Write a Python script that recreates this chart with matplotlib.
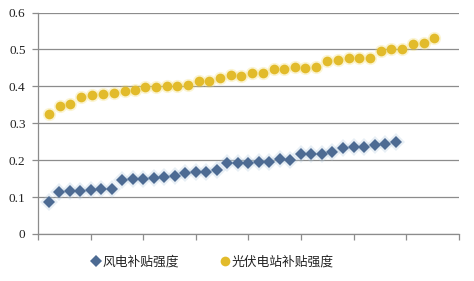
import matplotlib
matplotlib.use("Agg")
import matplotlib.pyplot as plt
import numpy as np

plt.rcParams['font.family'] = ['Noto Sans CJK SC', 'DejaVu Sans']

# Data
wind_x = list(range(1, 35))
wind = [0.086, 0.115, 0.117, 0.117, 0.120, 0.122, 0.122, 0.147, 0.150, 0.150,
        0.152, 0.155, 0.156, 0.164, 0.169, 0.169, 0.172, 0.191, 0.191, 0.191,
        0.196, 0.196, 0.202, 0.201, 0.216, 0.218, 0.218, 0.221, 0.232, 0.235,
        0.235, 0.241, 0.245, 0.250]

pv_x = [1.05, 2.12, 3.07, 4.12, 5.16, 6.21, 7.22, 8.24, 9.25, 10.2,
        11.22, 12.23, 13.24, 14.29, 15.33, 16.28, 17.3, 18.32, 19.3, 20.37,
        21.42, 22.4, 23.41, 24.46, 25.41, 26.43, 27.5, 28.55, 29.56, 30.54,
        31.56, 32.58, 33.56, 34.63, 35.65, 36.66, 37.67]
pv = [0.324, 0.348, 0.353, 0.371, 0.376, 0.379, 0.382, 0.387, 0.391, 0.397,
      0.397, 0.400, 0.400, 0.403, 0.414, 0.415, 0.423, 0.430, 0.429, 0.436,
      0.436, 0.446, 0.446, 0.452, 0.451, 0.452, 0.469, 0.471, 0.477, 0.477,
      0.478, 0.495, 0.500, 0.500, 0.514, 0.517, 0.531]

labels = ['风电补贴强度', '光伏电站补贴强度']
yticks = [0, 0.1, 0.2, 0.3, 0.4, 0.5, 0.6]
ytick_labels = ['0', '0.1', '0.2', '0.3', '0.4', '0.5', '0.6']

blue = '#4d6b93'
yellow = '#e2bb2b'

fig = plt.figure(figsize=(4.74, 2.81), dpi=100)
ax = fig.add_axes([0.0802, 0.1673, 0.8875, 0.7882])

# glow
ax.plot(wind_x, wind, linestyle='none', marker='D', markersize=9,
        color='#b3cbe0', alpha=0.3, markeredgewidth=0, zorder=2)
ax.plot(pv_x, pv, linestyle='none', marker='o', markersize=9.5,
        color='#f3dc6a', alpha=0.3, markeredgewidth=0, zorder=2)

ax.plot(wind_x, wind, linestyle='none', marker='D', markersize=5.8,
        color=blue, markeredgewidth=0, zorder=3, label=labels[0])
ax.plot(pv_x, pv, linestyle='none', marker='o', markersize=7,
        color=yellow, markeredgewidth=0, zorder=3, label=labels[1])

ax.set_xlim(0, 40)
ax.set_ylim(0, 0.6)
ax.set_xticks(np.arange(0, 41, 5))
ax.set_xticklabels([])
ax.set_yticks(yticks)
ax.set_yticklabels(ytick_labels, family='Liberation Serif', fontsize=9.5, color='#222222')

ax.grid(axis='y', color='#8c8c8c', linewidth=0.9)
ax.set_axisbelow(True)
for s in ['top', 'right']:
    ax.spines[s].set_visible(False)
for s in ['left', 'bottom']:
    ax.spines[s].set_color('#8c8c8c')
    ax.spines[s].set_linewidth(0.9)
ax.tick_params(axis='both', color='#8c8c8c', length=4, width=0.9, direction='out')
ax.tick_params(axis='y', pad=5)

leg = fig.legend(loc='center left', bbox_to_anchor=(0.194, 0.066), ncol=2,
                 frameon=False, fontsize=9.2, handlelength=0.6, handletextpad=0.25,
                 columnspacing=3.25, borderaxespad=0, borderpad=0)
for t in leg.get_texts():
    t.set_color('#222222')

fig.savefig('out.png', dpi=100, facecolor='white')
